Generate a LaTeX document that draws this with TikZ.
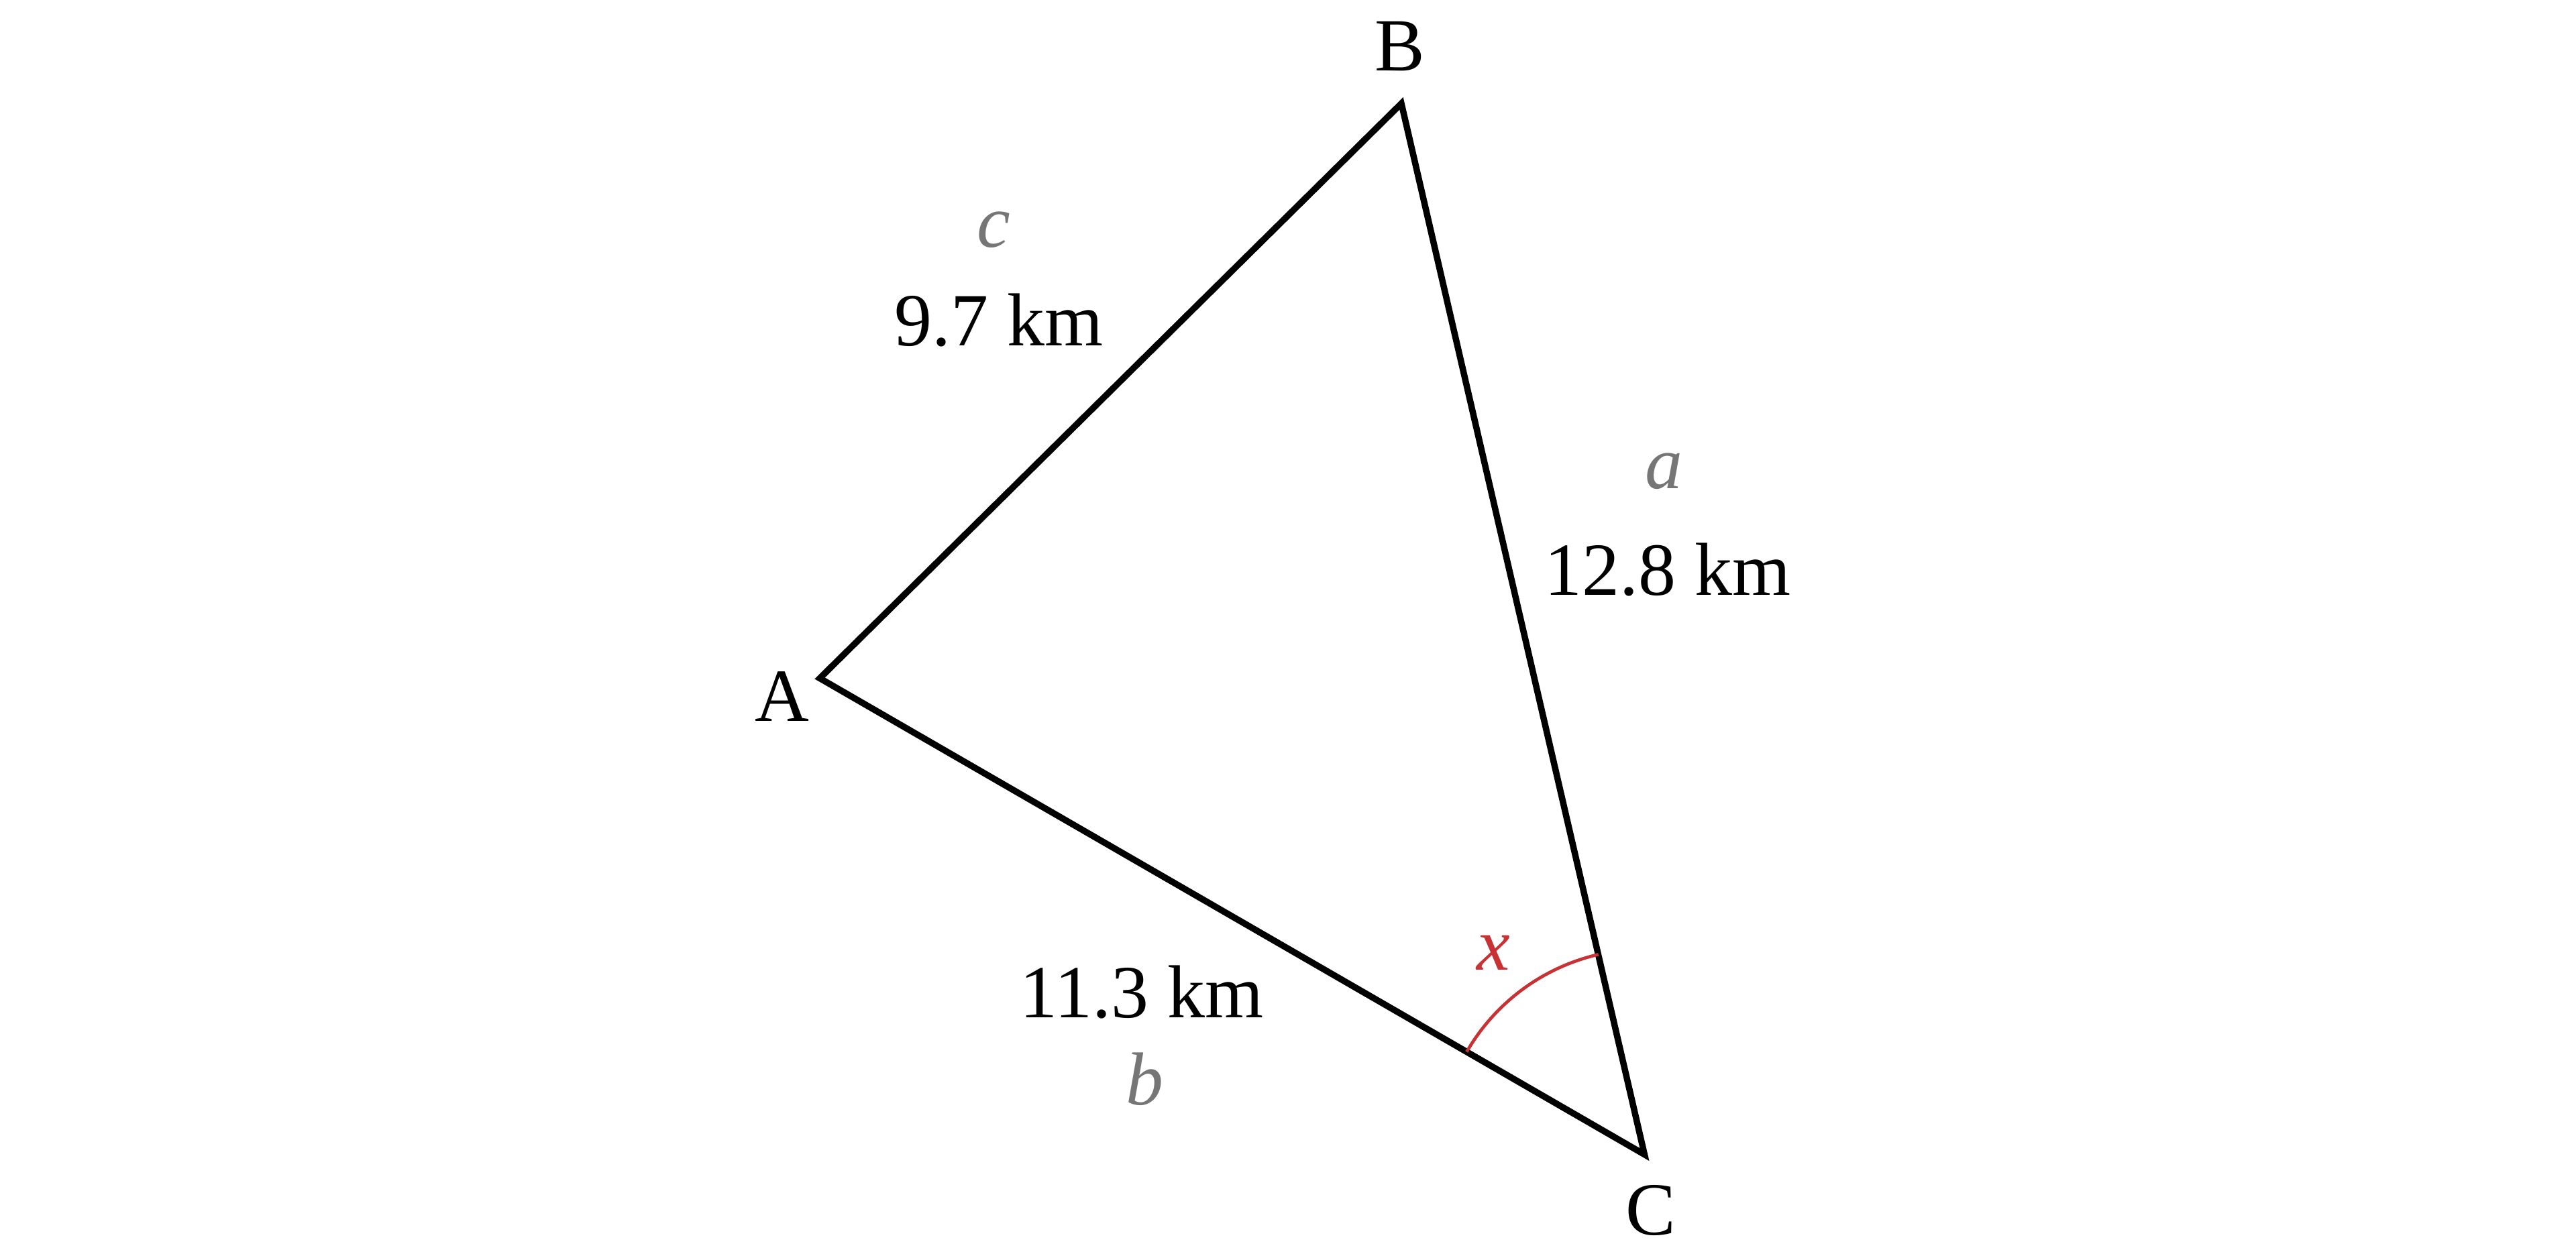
\documentclass[tikz,border=0pt]{standalone}
\usepackage{fontspec}
\setmainfont{Liberation Serif}
\definecolor{anglered}{RGB}{200,50,52}
\definecolor{sidegray}{RGB}{118,118,118}
\begin{document}
\begin{tikzpicture}[font=\fontsize{13}{15}\selectfont]
\useasboundingbox (0,0) rectangle (15.68,7.62);

\coordinate (A) at (4.99,3.49);
\coordinate (B) at (8.53,6.99);
\coordinate (C) at (10.01,0.59);

\draw[line width=1.1pt, line join=miter] (A) -- (B) -- (C) -- cycle;
\draw[anglered, line width=0.55pt] (C) ++(150:1.25) arc[start angle=150, end angle=103, radius=1.25];

\node (labA) at (4.76,3.38) {A};
\node (labB) at (8.52,7.34) {B};
\node (labC) at (10.05,0.25) {C};

\node[sidegray] (sidec) at (6.05,6.22) {\textit{c}};
\node (lenc) at (6.08,5.67) {9.7 km};
\node[sidegray] (sidea) at (10.13,4.75) {\textit{a}};
\node (lena) at (10.15,4.15) {12.8 km};
\node (lenb) at (6.95,1.58) {11.3 km};
\node[sidegray] (sideb) at (6.97,1.05) {\textit{b}};
\node[anglered] (angx) at (9.09,1.82) {\textit{x}};
\end{tikzpicture}
\end{document}
